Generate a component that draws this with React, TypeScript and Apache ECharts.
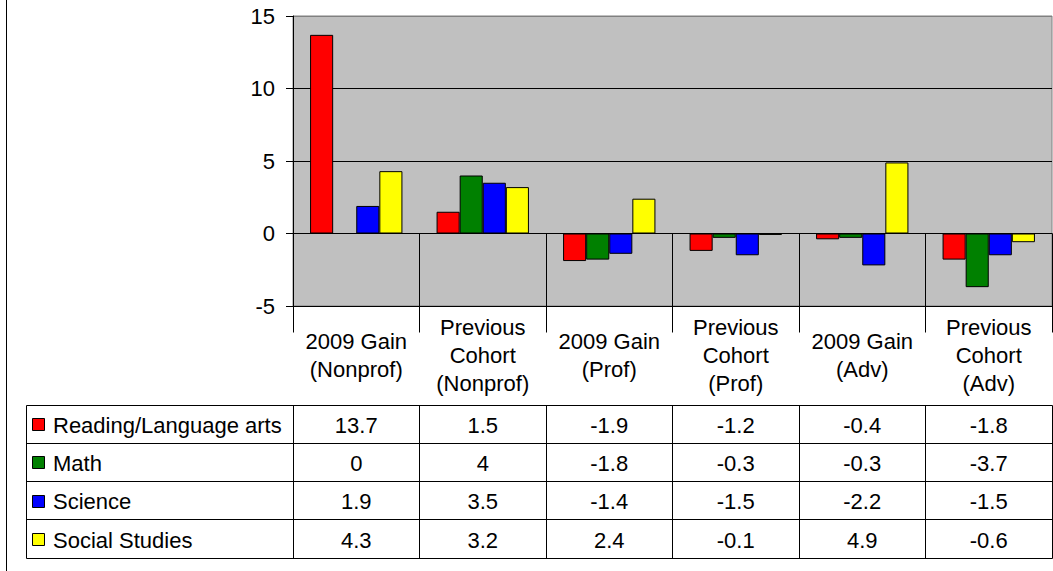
import React, { useEffect, useRef } from "react";
import * as echarts from "echarts";

// Categories along the x axis (also the data-table header cells)
const CATEGORIES = [
  "2009 Gain\n(Nonprof)",
  "Previous\nCohort\n(Nonprof)",
  "2009 Gain\n(Prof)",
  "Previous\nCohort\n(Prof)",
  "2009 Gain\n(Adv)",
  "Previous\nCohort\n(Adv)",
];

const SERIES_NAMES = ["Reading/Language arts", "Math", "Science", "Social Studies"];
const SERIES_COLORS = ["#FF0000", "#008000", "#0000FF", "#FFFF00"];

const READING = [13.7, 1.5, -1.9, -1.2, -0.4, -1.8];
const MATH = [0, 4, -1.8, -0.3, -0.3, -3.7];
const SCIENCE = [1.9, 3.5, -1.4, -1.5, -2.2, -1.5];
const SOCIAL = [4.3, 3.2, 2.4, -0.1, 4.9, -0.6];
const SERIES_VALUES = [READING, MATH, SCIENCE, SOCIAL];

const Y_MIN = -5;
const Y_MAX = 15;
const Y_STEP = 5;

// Layout of the plot and the data table beneath it
const W = 1053;
const H = 571;
const PLOT_LEFT = 293;
const PLOT_RIGHT = 1052;
const PLOT_TOP = 16;
const PLOT_BOTTOM = 306;
const HEADER_BOTTOM = 405;
const ROW_H = 38.3;
const LEGEND_LEFT = 26.5;
const FRAME_X = 6.5;
const FONT = '"Liberation Sans", Arial, sans-serif';
const FONT_SIZE = 22;

const crisp = (v: number) => Math.round(v - 0.5) + 0.5;

function tableGraphics() {
  const els: any[] = [];
  const colW = (PLOT_RIGHT - PLOT_LEFT) / CATEGORIES.length;
  const tableBottom = HEADER_BOTTOM + ROW_H * SERIES_NAMES.length;
  const line = (x1: number, y1: number, x2: number, y2: number, color = "#000") => ({
    type: "line",
    silent: true,
    shape: { x1, y1, x2, y2 },
    style: { stroke: color, lineWidth: 1 },
    z: 10,
  });
  const text = (t: string, x: number, y: number, align: string) => ({
    type: "text",
    silent: true,
    x,
    y,
    style: {
      text: t,
      fill: "#000",
      font: `${FONT_SIZE}px ${FONT}`,
      align,
      verticalAlign: "middle",
      textAlign: align,
      textVerticalAlign: "middle",
    },
    z: 11,
  });

  // outer chart-area frame edge
  els.push(line(FRAME_X, 0, FRAME_X, H));

  // horizontal row rules
  for (let r = 0; r <= SERIES_NAMES.length; r++) {
    const y = crisp(HEADER_BOTTOM + r * ROW_H);
    els.push(line(crisp(LEGEND_LEFT), y, crisp(PLOT_RIGHT), y));
  }
  // vertical rules in the value rows
  els.push(line(crisp(LEGEND_LEFT), crisp(HEADER_BOTTOM), crisp(LEGEND_LEFT), crisp(tableBottom)));
  for (let c = 0; c <= CATEGORIES.length; c++) {
    const x = crisp(PLOT_LEFT + c * colW);
    els.push(line(x, crisp(HEADER_BOTTOM), x, crisp(tableBottom)));
  }

  // legend keys and value cells
  SERIES_NAMES.forEach((name, r) => {
    const cy = HEADER_BOTTOM + (r + 0.5) * ROW_H;
    els.push({
      type: "rect",
      silent: true,
      shape: { x: 32.5, y: Math.round(cy - 6) + 0.5, width: 12, height: 12 },
      style: { fill: SERIES_COLORS[r], stroke: "#000", lineWidth: 1 },
      z: 11,
    });
    els.push(text(name, 53, cy + 1, "left"));
    SERIES_VALUES[r].forEach((v, c) => {
      els.push(text(String(v), PLOT_LEFT + (c + 0.5) * colW, cy + 1, "center"));
    });
  });
  return els;
}

export default function App() {
  const ref = useRef<HTMLDivElement>(null);

  useEffect(() => {
    if (!ref.current) return;
    const chart = echarts.init(ref.current, undefined, { renderer: "svg" });
    const tickCount = (Y_MAX - Y_MIN) / Y_STEP + 1;
    const splitColors = Array.from({ length: tickCount }, (_, i) =>
      i === tickCount - 1 ? "#808080" : "#000000"
    );
    chart.setOption({
      animation: false,
      backgroundColor: "#FFFFFF",
      textStyle: { fontFamily: FONT },
      grid: {
        left: PLOT_LEFT,
        right: W - PLOT_RIGHT,
        top: PLOT_TOP,
        bottom: H - PLOT_BOTTOM,
        show: true,
        backgroundColor: "#C0C0C0",
        borderColor: "#808080",
        borderWidth: 1,
      },
      xAxis: {
        type: "category",
        data: CATEGORIES,
        position: "bottom",
        axisLine: { show: true, lineStyle: { color: "#000", width: 1 } },
        axisTick: {
          show: true,
          interval: 0,
          alignWithLabel: false,
          length: HEADER_BOTTOM - PLOT_BOTTOM,
          lineStyle: { color: "#000", width: 1 },
        },
        axisLabel: {
          interval: 0,
          color: "#000",
          fontSize: FONT_SIZE,
          fontFamily: FONT,
          lineHeight: 28,
          verticalAlign: "middle",
          align: "center",
          margin: (HEADER_BOTTOM - PLOT_BOTTOM) / 2,
        },
        splitLine: { show: false },
      },
      yAxis: {
        type: "value",
        min: Y_MIN,
        max: Y_MAX,
        interval: Y_STEP,
        axisLine: { show: true, lineStyle: { color: "#000", width: 1 } },
        axisTick: { show: true, length: 7, lineStyle: { color: "#000", width: 1 } },
        axisLabel: {
          color: "#000",
          fontSize: FONT_SIZE,
          fontFamily: FONT,
          margin: 18,
        },
        splitLine: { show: true, lineStyle: { color: splitColors, width: 1 } },
      },
      series: SERIES_NAMES.map((name, i) => ({
        name,
        type: "bar",
        data: SERIES_VALUES[i],
        barGap: "0%",
        barCategoryGap: "27%",
        itemStyle: { color: SERIES_COLORS[i], borderColor: "#000", borderWidth: 1 },
        emphasis: { disabled: true },
      })),
      graphic: tableGraphics(),
    });
    return () => chart.dispose();
  }, []);

  return (
    <div
      ref={ref}
      style={{ position: "absolute", left: 0, top: 0, width: W, height: H }}
    />
  );
}
